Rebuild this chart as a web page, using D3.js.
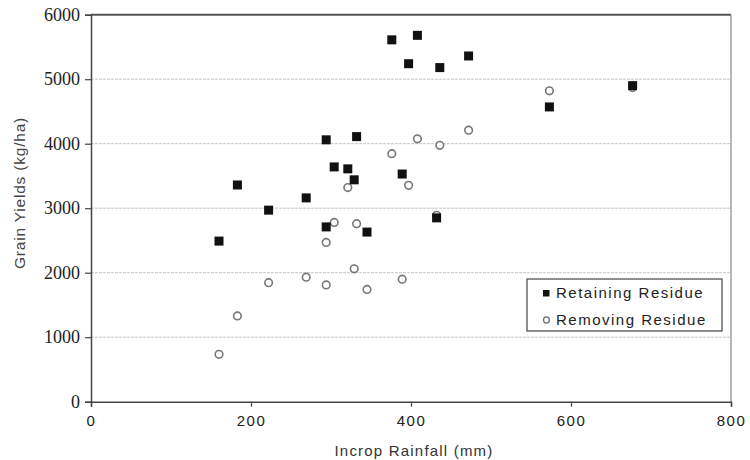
<!DOCTYPE html>
<html>
<head>
<meta charset="utf-8">
<script src="https://cdn.jsdelivr.net/npm/d3@7"></script>
<style>
body { margin: 0; background: #fff; }
</style>
</head>
<body>
<script>
const rainfall = [160,183,222,269,294,294,304,321,329,332,345,376,389,397,408,432,436,472,573,677]
const retaining = [2490,3360,2970,3160,2710,4060,3640,3610,3440,4110,2630,5610,3530,5240,5680,2850,5180,5360,4570,4900]
const removing = [735,1330,1845,1930,1810,2470,2780,3320,2060,2760,1740,3845,1900,3355,4075,2890,3975,4210,4820,4870]
const xTicks = [0,200,400,600,800]
const yTicks = [0,1000,2000,3000,4000,5000,6000]
const seriesNames = ["Retaining Residue","Removing Residue"]

const width = 750, height = 460
const plotLeft = 91, plotRight = 731, plotTop = 14.7, plotBottom = 401.7

const svg = d3.select("body")
    .append("svg")
    .attr("width", width)
    .attr("height", height)

const x = d3.scaleLinear().domain([0,800]).range([plotLeft,plotRight])
const y = d3.scaleLinear().domain([0,6000]).range([plotBottom,plotTop])

// gridlines
svg.append("g")
    .selectAll("line")
    .data(yTicks.filter(d => d > 0 && d < 6000))
    .join("line")
    .attr("x1", plotLeft).attr("x2", plotRight)
    .attr("y1", d => y(d)).attr("y2", d => y(d))
    .attr("stroke", "#c4c4c4")
    .attr("stroke-width", 1)
    .attr("stroke-dasharray", "3,1")

// top and right border
svg.append("line")
    .attr("x1", plotLeft).attr("x2", plotRight)
    .attr("y1", y(6000)).attr("y2", y(6000))
    .attr("stroke", "#555").attr("stroke-width", 2)
svg.append("line")
    .attr("x1", plotRight).attr("x2", plotRight)
    .attr("y1", y(6000)).attr("y2", plotBottom)
    .attr("stroke", "#888").attr("stroke-width", 1.2)

const yAxis = svg.append("g")
    .attr("transform", `translate(${plotLeft},0)`)
    .call(d3.axisLeft(y).tickValues(yTicks).tickSize(6).tickPadding(5).tickFormat(d3.format("d")))
yAxis.select(".domain").attr("stroke", "#444").attr("stroke-width", 1.5)
yAxis.selectAll(".tick line").attr("stroke", "#444").attr("stroke-width", 1.2)
yAxis.selectAll("text")
    .attr("font-family", "'Liberation Serif', 'Times New Roman', serif")
    .attr("font-size", 18)
    .attr("fill", "#222")

const xAxis = svg.append("g")
    .attr("transform", `translate(0,${plotBottom})`)
    .call(d3.axisBottom(x).tickValues(xTicks).tickSize(5).tickPadding(9))
xAxis.select(".domain").attr("stroke", "#444").attr("stroke-width", 1.5)
xAxis.selectAll(".tick line").attr("stroke", "#444").attr("stroke-width", 1.2)
xAxis.selectAll("text")
    .attr("font-family", "'Liberation Sans', Arial, sans-serif")
    .attr("font-size", 15)
    .attr("letter-spacing", 1.5)
    .attr("fill", "#222")

svg.append("text")
    .attr("x", 414).attr("y", 456)
    .attr("text-anchor", "middle")
    .attr("font-family", "'Liberation Sans', Arial, sans-serif")
    .attr("font-size", 15)
    .attr("letter-spacing", 1.2)
    .attr("fill", "#333")
    .text("Incrop Rainfall (mm)")

svg.append("text")
    .attr("transform", "translate(25,193) rotate(-90)")
    .attr("text-anchor", "middle")
    .attr("font-family", "'Liberation Sans', Arial, sans-serif")
    .attr("font-size", 15.5)
    .attr("letter-spacing", 0.8)
    .attr("fill", "#444")
    .text("Grain Yields (kg/ha)")

const ptsRemoving = rainfall.map((d,i) => ({x: d, y: removing[i]}))
const ptsRetaining = rainfall.map((d,i) => ({x: d, y: retaining[i]}))

svg.append("g")
    .selectAll("circle")
    .data(ptsRemoving)
    .join("circle")
    .attr("cx", d => x(d.x))
    .attr("cy", d => y(d.y))
    .attr("r", 3.8)
    .attr("fill", "#fff")
    .attr("stroke", "#777")
    .attr("stroke-width", 1.6)

svg.append("g")
    .selectAll("rect")
    .data(ptsRetaining)
    .join("rect")
    .attr("x", d => x(d.x) - 4.5)
    .attr("y", d => y(d.y) - 4.5)
    .attr("width", 9)
    .attr("height", 9)
    .attr("fill", "#111")

// legend
const legend = svg.append("g")
legend.append("rect")
    .attr("x", 527).attr("y", 279)
    .attr("width", 195).attr("height", 52)
    .attr("fill", "#fff")
    .attr("stroke", "#444")
    .attr("stroke-width", 1.2)

legend.append("rect")
    .attr("x", 543).attr("y", 290).attr("width", 6.5).attr("height", 6.5)
    .attr("fill", "#111")
legend.append("circle")
    .attr("cx", 546.5).attr("cy", 320).attr("r", 3)
    .attr("fill", "#fff").attr("stroke", "#777").attr("stroke-width", 1.4)

legend.selectAll("text")
    .data(seriesNames)
    .join("text")
    .attr("x", 556)
    .attr("y", (d,i) => 298 + i*26.5)
    .attr("font-family", "'Liberation Sans', Arial, sans-serif")
    .attr("font-size", 15)
    .attr("letter-spacing", 1.5)
    .attr("fill", "#222")
    .text(d => d)
</script>
</body>
</html>
